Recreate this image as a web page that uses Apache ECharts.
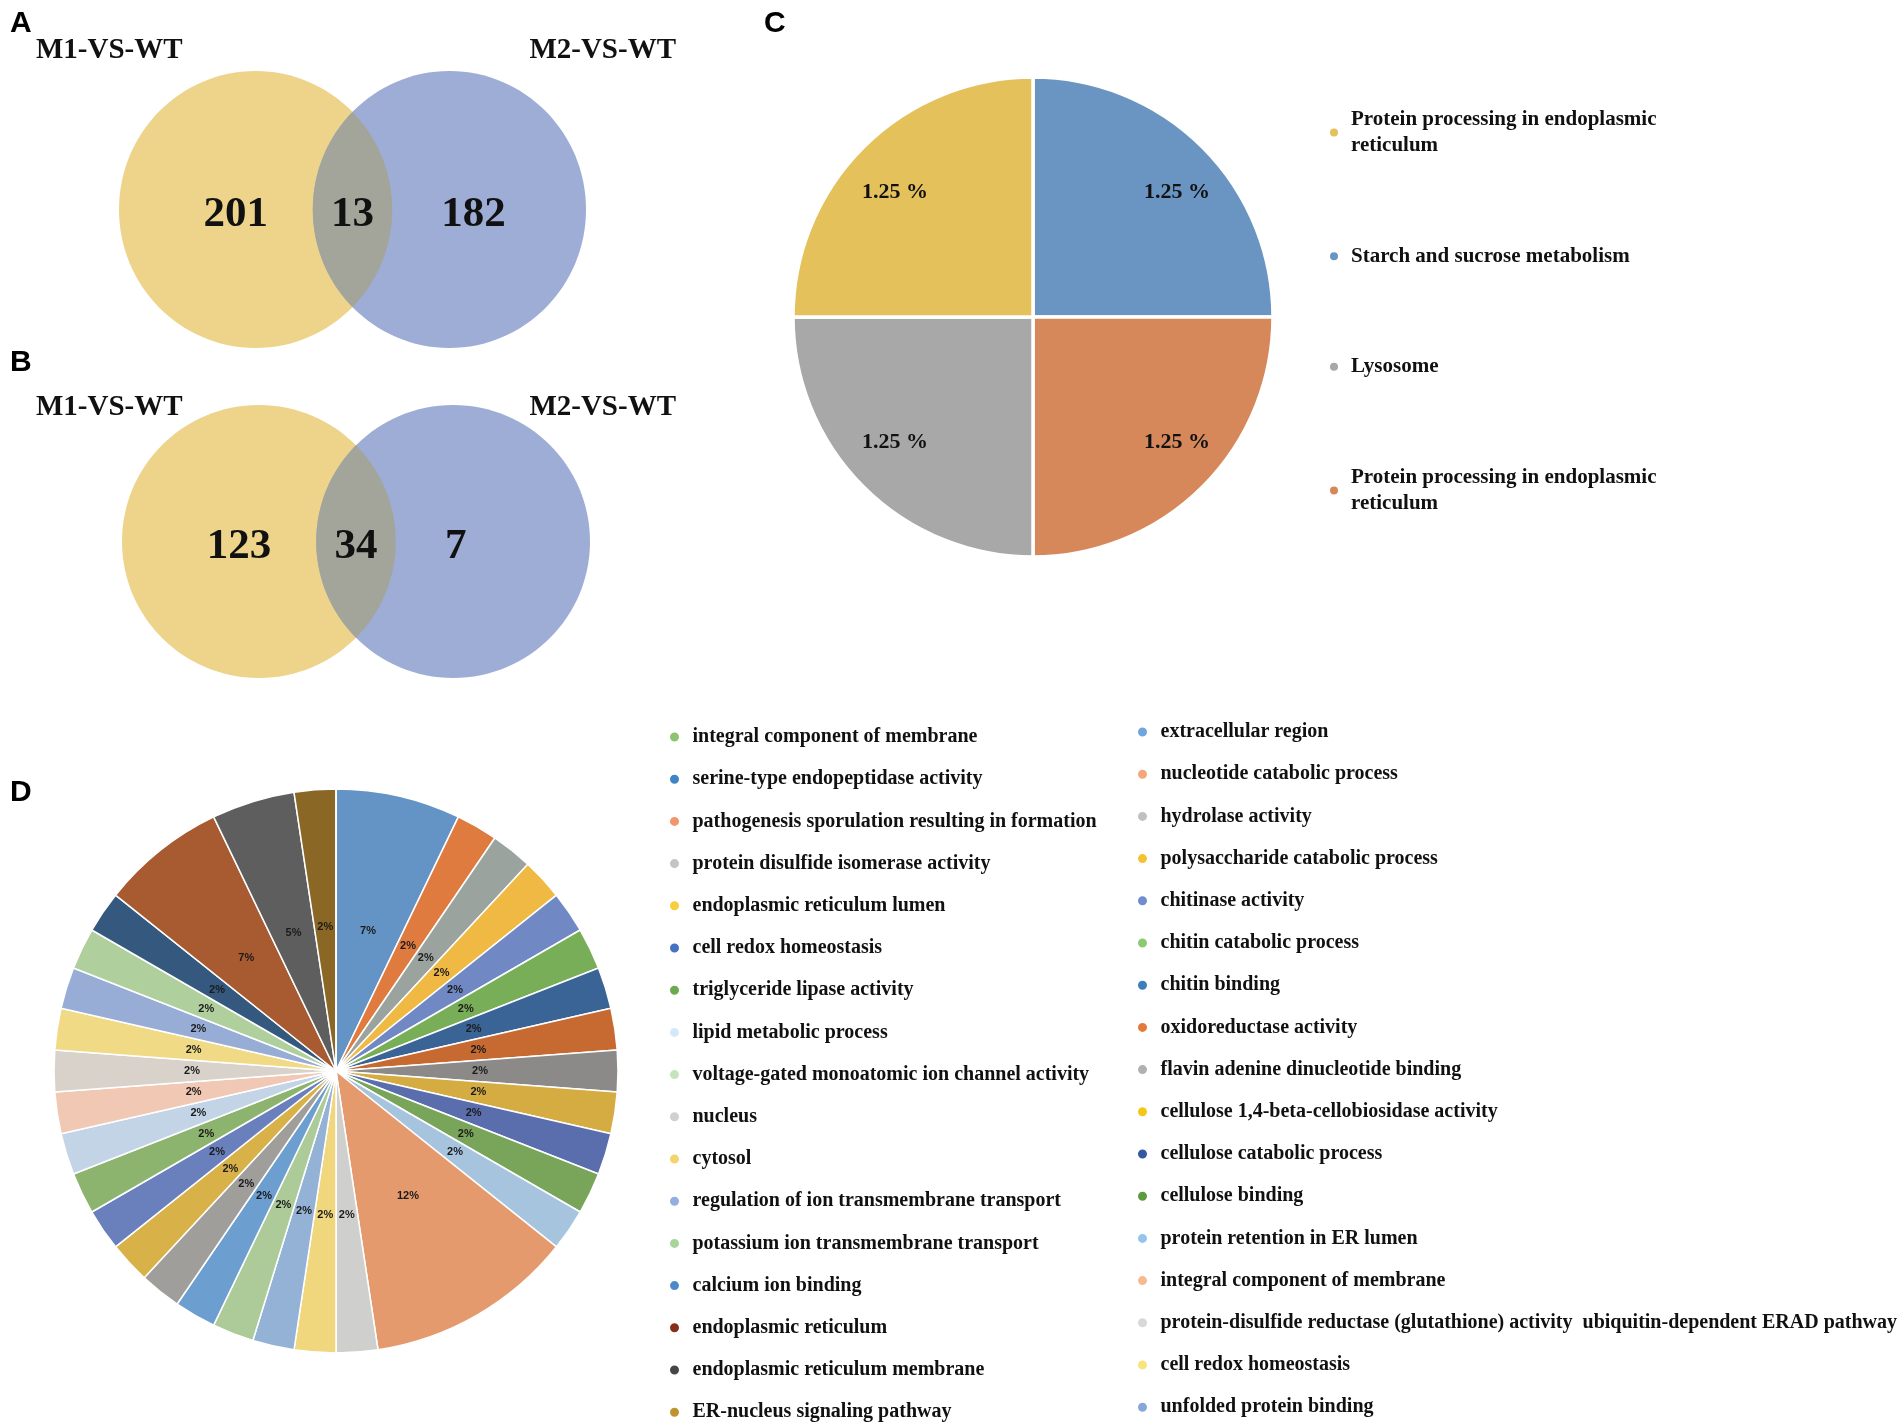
<!DOCTYPE html>
<html>
<head>
<meta charset="utf-8">
<script src="https://cdn.jsdelivr.net/npm/echarts@6/dist/echarts.min.js"></script>
<style>
html,body{margin:0;padding:0;background:#fff;}
#main{width:1904px;height:1425px;}
</style>
</head>
<body>
<div id="main"></div>
<script>
// ---------- DATA ----------
const vennSets = ['M1-VS-WT', 'M2-VS-WT'];
const vennACounts = [201, 13, 182];   // M1 only, both, M2 only
const vennBCounts = [123, 34, 7];
const vennColors = ['#EDD48A', '#9EADD6', '#A3A59A'];

const pathwayNames = ['Protein processing in endoplasmic reticulum', 'Starch and sucrose metabolism', 'Lysosome', 'Protein processing in endoplasmic reticulum'];
const pathwayValues = [1.25, 1.25, 1.25, 1.25];
const pathwayColors = ['#E5C15C', '#6A95C2', '#A8A8A8', '#D6885A'];
const pathwaySliceOrder = [1, 3, 2, 0]; // clockwise from 12 o'clock

const goTerms = [
  'integral component of membrane',
  'serine-type endopeptidase activity',
  'pathogenesis sporulation resulting in formation',
  'protein disulfide isomerase activity',
  'endoplasmic reticulum lumen',
  'cell redox homeostasis',
  'triglyceride lipase activity',
  'lipid metabolic process',
  'voltage-gated monoatomic ion channel activity',
  'nucleus',
  'cytosol',
  'regulation of ion transmembrane transport',
  'potassium ion transmembrane transport',
  'calcium ion binding',
  'endoplasmic reticulum',
  'endoplasmic reticulum membrane',
  'ER-nucleus signaling pathway',
  'extracellular region',
  'nucleotide catabolic process',
  'hydrolase activity',
  'polysaccharide catabolic process',
  'chitinase activity',
  'chitin catabolic process',
  'chitin binding',
  'oxidoreductase activity',
  'flavin adenine dinucleotide binding',
  'cellulose 1,4-beta-cellobiosidase activity',
  'cellulose catabolic process',
  'cellulose binding',
  'protein retention in ER lumen',
  'integral component of membrane',
  'protein-disulfide reductase (glutathione) activity  ubiquitin-dependent ERAD pathway',
  'cell redox homeostasis',
  'unfolded protein binding'
];
const goCounts = [1, 3, 5, 1, 1, 1, 1, 1, 0, 1, 1, 1, 1, 1, 3, 2, 1,
                  1, 1, 1, 1, 1, 1, 1, 1, 1, 1, 1, 1, 1, 1, 1, 1, 1];
const goLegendColors = [
  '#8CC46F', '#3F84C6', '#F3956A', '#C4C4C4', '#F7CE3E', '#4472C4', '#6BAA4F', '#D4E8F8', '#C5E3BE',
  '#D0D0D0', '#F5D46E', '#93AEDF', '#A8D49A', '#4A8AC8', '#862F1C', '#464646', '#BF9430',
  '#6FA7DC', '#F5A77B', '#C0C0C0', '#F5C232', '#6E8ECF', '#8CCA72', '#3A7EBE', '#E47A3A', '#B0B0B0',
  '#F5C71A', '#3558A3', '#5D9B3E', '#95C5EC', '#F7BA90', '#D8D8D8', '#F7E57B', '#87A7DB'
];
// slices clockwise from 12 o'clock (indices into goTerms) and their colours
const goSliceOrder = [1, 24, 19, 20, 21, 22, 23, 18, 25, 26, 27, 28, 29, 2, 31, 32, 33,
                      0, 17, 3, 4, 5, 6, 7, 30, 9, 10, 11, 12, 13, 14, 15, 16, 8];
const goSliceColors = [
  '#6494C6', '#E07B40', '#9AA39D', '#F0B944', '#7089C4', '#78AE58', '#3B6496', '#C76A32',
  '#8C8989', '#D5AC42', '#5A6EAE', '#78A55A', '#A7C4DE', '#E59A6E', '#CFD0CD', '#F0D67C',
  '#93B2D5', '#ACCB98', '#6C9FD0', '#A09E9B', '#D8B248', '#6A80BD', '#8DB46F', '#C3D4E7',
  '#F0C8B3', '#D8D2CA', '#F0DA86', '#98ADD6', '#AFCF9D', '#34587E', '#A85B30', '#5E5E5E',
  '#8B6726', '#C5E3BE'
];

// ---------- HELPERS ----------
function uniqueNames(names) {
  const seen = {};
  return names.map(n => { const k = seen[n] || 0; seen[n] = k + 1; return n + ' '.repeat(k); });
}
function wrapWords(text, maxChars) {
  const words = text.split(' ');
  const lines = [];
  let cur = '';
  words.forEach(w => {
    if (cur && (cur + ' ' + w).length > maxChars) { lines.push(cur); cur = w; }
    else cur = cur ? cur + ' ' + w : w;
  });
  if (cur) lines.push(cur);
  return lines.join('\n');
}
const pathwayKeys = uniqueNames(pathwayNames);
const goKeys = uniqueNames(goTerms);
const goTotal = goCounts.reduce((a, b) => a + b, 0);

const SERIF = '"Liberation Serif", "Times New Roman", serif';
const SANS = '"Liberation Sans", Arial, sans-serif';
const TXT = '#111';

// ---------- VENN RENDERERS ----------
const ELL_W = 0.2925; // ellipse half-width as a fraction of the grid width
function vennGeom(cs) {
  const rx = cs.width * ELL_W, ry = cs.height / 2;
  return { rx, ry, cy: cs.y + ry, cxL: cs.x + rx, cxR: cs.x + cs.width - rx };
}
function renderSet(params, api) {
  const g = vennGeom(params.coordSys);
  const i = params.dataIndex;
  return {
    type: 'ellipse',
    shape: { cx: i === 0 ? g.cxL : g.cxR, cy: g.cy, rx: g.rx, ry: g.ry },
    style: { fill: vennColors[i] }
  };
}
function makeRenderCount(counts) {
  return function (params, api) {
    const cs = params.coordSys;
    const g = vennGeom(cs);
    const i = params.dataIndex;
    const children = [];
    if (i === 1) {
      const d = (g.cxR - g.cxL) / 2;
      const t0 = Math.acos(Math.min(1, d / g.rx));
      const pts = [];
      const N = 60;
      for (let k = 0; k <= N; k++) {
        const t = -t0 + 2 * t0 * k / N;
        pts.push([g.cxL + g.rx * Math.cos(t), g.cy + g.ry * Math.sin(t)]);
      }
      for (let k = 0; k <= N; k++) {
        const t = Math.PI - t0 + 2 * t0 * k / N;
        pts.push([g.cxR + g.rx * Math.cos(t), g.cy + g.ry * Math.sin(t)]);
      }
      children.push({ type: 'polygon', shape: { points: pts }, style: { fill: vennColors[2] } });
    }
    const fx = [0.25, 0.5, 0.69][i];
    children.push({
      type: 'text',
      x: cs.x + cs.width * fx,
      y: g.cy + 5,
      style: {
        text: String(counts[i]),
        fontFamily: SERIF, fontWeight: 'bold', fontSize: 43, fill: TXT,
        align: i === 2 ? 'left' : 'center', verticalAlign: 'middle'
      }
    });
    return { type: 'group', children };
  };
}

// ---------- OPTION ----------
const chart = echarts.init(document.getElementById('main'), null, { renderer: 'canvas' });

function letter(t, x, y) {
  return { type: 'text', x, y, style: { text: t, fontFamily: SANS, fontWeight: 'bold', fontSize: 30, fill: '#000', align: 'left', verticalAlign: 'middle' } };
}
function setLabel(t, x, y, align) {
  return { type: 'text', x, y, style: { text: t, fontFamily: SERIF, fontWeight: 'bold', fontSize: 29, fill: TXT, align, verticalAlign: 'middle' } };
}

const goLegendText = { fontFamily: SERIF, fontWeight: 'bold', fontSize: 20, lineHeight: 20, color: TXT };
const PIE_C_CENTER = [1033, 317];

const option = {
  animation: false,
  backgroundColor: '#fff',
  graphic: [
    letter('A', 10, 24),
    letter('B', 10, 363),
    letter('C', 764, 24),
    letter('D', 10, 793),
    setLabel(vennSets[0], 36, 51, 'left'),
    setLabel(vennSets[1], 676, 51, 'right'),
    setLabel(vennSets[0], 36, 408, 'left'),
    setLabel(vennSets[1], 676, 408, 'right')
  ],
  grid: [
    { left: 119, top: 71, width: 467, height: 277 },
    { left: 122, top: 405, width: 468, height: 273 }
  ],
  xAxis: [
    { gridIndex: 0, type: 'value', min: 0, max: 2, show: false },
    { gridIndex: 1, type: 'value', min: 0, max: 2, show: false }
  ],
  yAxis: [
    { gridIndex: 0, type: 'value', min: 0, max: 1, show: false },
    { gridIndex: 1, type: 'value', min: 0, max: 1, show: false }
  ],
  legend: [
    {
      orient: 'vertical', left: 1328, top: 106, padding: 0, itemWidth: 24, itemHeight: 10, itemGap: 84,
      icon: 'circle', selectedMode: false,
      data: pathwayKeys.map((n, i) => ({ name: n, itemStyle: { color: pathwayColors[i] } })),
      formatter: n => wrapWords(n.trim(), 34),
      textStyle: { fontFamily: SERIF, fontWeight: 'bold', fontSize: 21, lineHeight: 26.5, color: TXT }
    },
    {
      orient: 'vertical', left: 668, top: 727, padding: 0, itemWidth: 26, itemHeight: 11, itemGap: 22.2,
      icon: 'circle', selectedMode: false,
      data: goKeys.slice(0, 17).map((n, i) => ({ name: n, itemStyle: { color: goLegendColors[i] } })),
      formatter: n => n.trim(),
      textStyle: goLegendText
    },
    {
      orient: 'vertical', left: 1136, top: 722, padding: 0, itemWidth: 26, itemHeight: 11, itemGap: 22.2,
      icon: 'circle', selectedMode: false,
      data: goKeys.slice(17).map((n, i) => ({ name: n, itemStyle: { color: goLegendColors[17 + i] } })),
      formatter: n => n.trim(),
      textStyle: goLegendText
    }
  ],
  series: [
    // Venn A
    { type: 'custom', name: 'vennA-sets', xAxisIndex: 0, yAxisIndex: 0, silent: true,
      data: vennSets.map((s, i) => ({ name: s, value: [i, 0.5] })), renderItem: renderSet },
    { type: 'custom', name: 'vennA-counts', xAxisIndex: 0, yAxisIndex: 0, silent: true,
      data: vennACounts.map((c, i) => ({ value: [i, c] })), renderItem: makeRenderCount(vennACounts) },
    // Venn B
    { type: 'custom', name: 'vennB-sets', xAxisIndex: 1, yAxisIndex: 1, silent: true,
      data: vennSets.map((s, i) => ({ name: s, value: [i, 0.5] })), renderItem: renderSet },
    { type: 'custom', name: 'vennB-counts', xAxisIndex: 1, yAxisIndex: 1, silent: true,
      data: vennBCounts.map((c, i) => ({ value: [i, c] })), renderItem: makeRenderCount(vennBCounts) },
    // Pie C
    {
      type: 'pie', name: 'pathway', center: PIE_C_CENTER, radius: 240, startAngle: 90, clockwise: true,
      silent: true, avoidLabelOverlap: false,
      itemStyle: { borderColor: '#fff', borderWidth: 3.5 },
      label: { show: false }, labelLine: { show: false },
      data: pathwaySliceOrder.map(i => ({ name: pathwayKeys[i], value: pathwayValues[i], itemStyle: { color: pathwayColors[i] } }))
    },
    {
      type: 'pie', name: 'pathway-labels', center: PIE_C_CENTER, radius: [144, 240], startAngle: 90, clockwise: true,
      silent: true, avoidLabelOverlap: false,
      itemStyle: { color: 'rgba(0,0,0,0)', borderWidth: 0 },
      label: { show: true, position: 'inside', formatter: p => p.value + ' %',
               fontFamily: SERIF, fontWeight: 'bold', fontSize: 22, color: TXT },
      labelLine: { show: false },
      labelLayout: p => {
        const cx = p.labelRect.x + p.labelRect.width / 2;
        const cy = p.labelRect.y + p.labelRect.height / 2;
        return { dx: cx > PIE_C_CENTER[0] ? 6 : 0, dy: cy < PIE_C_CENTER[1] ? 13 : -13 };
      },
      data: pathwaySliceOrder.map(i => ({ name: pathwayKeys[i], value: pathwayValues[i] }))
    },
    // Pie D
    {
      type: 'pie', name: 'go', center: [336, 1071], radius: 282, startAngle: 90, clockwise: true,
      silent: true, avoidLabelOverlap: false,
      itemStyle: { borderColor: '#fff', borderWidth: 1.5 },
      label: { show: true, position: 'inside',
               formatter: p => p.value > 0 ? Math.round(p.value / goTotal * 100) + '%' : '',
               fontFamily: SANS, fontWeight: 'bold', fontSize: 11, color: '#1b1b1b' },
      labelLine: { show: false },
      data: goSliceOrder.map((i, k) => ({ name: goKeys[i], value: goCounts[i], itemStyle: { color: goSliceColors[k] } }))
    }
  ]
};
chart.setOption(option);
</script>
</body>
</html>
